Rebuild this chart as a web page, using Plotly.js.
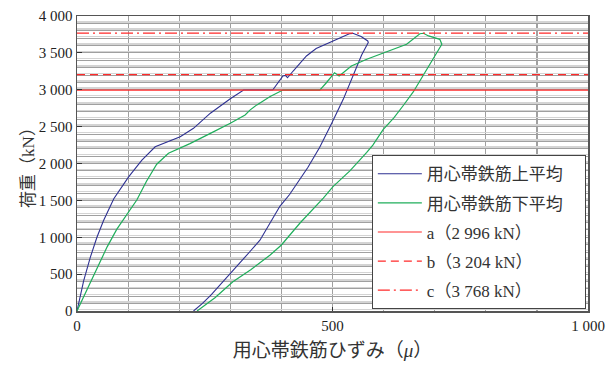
<!DOCTYPE html>
<html><head><meta charset="utf-8">
<script src="https://cdn.plot.ly/plotly-3.0.1.min.js"></script>
<style>body{margin:0;background:#fff}#c{width:611px;height:367px}</style>
</head><body><div id="c"></div>
<script>
// Upper average (用心帯鉄筋上平均): strain (μ), load (kN)
const upperStrain = [0, 13, 26, 39, 52, 72, 101, 127, 153, 182, 202, 228, 261, 300, 326, 383, 403, 408, 412, 423, 449, 468, 501, 533, 540, 556, 569,
  570, 557, 541, 521, 498, 475, 452, 436, 416, 397, 378, 358, 339, 320, 300, 280, 262, 245, 228];
const upperLoad   = [0, 409, 727, 1000, 1227, 1523, 1818, 2045, 2227, 2309, 2364, 2477, 2682, 2877, 2996, 2996, 3186, 3195, 3163, 3254, 3458, 3558, 3662, 3760, 3765, 3721, 3662,
  3640, 3470, 3200, 2870, 2540, 2220, 1950, 1780, 1580, 1420, 1190, 960, 810, 660, 505, 350, 215, 100, 0];
// Lower average (用心帯鉄筋下平均)
const lowerStrain = [0, 20, 39, 59, 78, 100, 117, 136, 156, 179, 200, 221, 261, 300, 329, 339, 352, 378, 403, 475, 488, 500, 504, 513, 521, 537, 567, 606, 645, 671, 678, 688, 701, 710, 714,
  704, 684, 658, 640, 620, 599, 579, 567, 534, 501, 482, 436, 400, 378, 340, 305, 270, 235];
const lowerLoad   = [0, 300, 590, 870, 1110, 1340, 1505, 1760, 1990, 2138, 2200, 2270, 2409, 2545, 2659, 2727, 2795, 2909, 2996, 2996, 3095, 3209, 3231, 3186, 3231, 3322, 3413, 3512, 3616, 3760, 3766, 3730, 3707, 3684, 3617,
  3503, 3277, 2970, 2800, 2620, 2460, 2250, 2150, 1900, 1686, 1530, 1190, 895, 759, 560, 397, 180, 0];
const seriesNames = ['用心帯鉄筋上平均', '用心帯鉄筋下平均'];
// Reference load levels
const levelNames = ['a（2 996 kN）', 'b（3 204 kN）', 'c（3 768 kN）'];
const levelValues = [2996, 3204, 3768];
const xRange = [0, 1000];
const xTickVals = [0, 500, 1000];
const xTickText = ['0', '500', '1 000'];
const yTickVals = [0, 500, 1000, 1500, 2000, 2500, 3000, 3500, 4000];
const yTickText = ['0', '500', '1 000', '1 500', '2 000', '2 500', '3 000', '3 500', '4 000'];

const serif = 'Liberation Serif, Noto Sans CJK JP, serif';
const dashes = ['solid', '8px,5px', '12px,4px,2px,4px'];
const pad = '\u00a0\u00a0\u00a0\u00a0';

const traces = [
  {x: upperStrain, y: upperLoad, mode: 'lines', name: seriesNames[0] + pad, legendgroup: 'g1',
   line: {color: '#2e3192', width: 1.1}},
  {x: lowerStrain, y: lowerLoad, mode: 'lines', name: seriesNames[1] + pad, legendgroup: 'g2',
   line: {color: '#1fae5b', width: 1.2}}
];
levelValues.forEach((v, i) => {
  traces.push({x: xRange, y: [v, v], mode: 'lines', name: levelNames[i], legendgroup: 'l' + i,
    line: {color: '#ff2a2a', width: 1.2, dash: dashes[i]}});
});
// invisible trace hosting the light companion gridlines
traces.push({x: [0], y: [0], yaxis: 'y2', mode: 'markers', marker: {opacity: 0}, showlegend: false, hoverinfo: 'skip'});

const layout = {
  width: 611, height: 367,
  margin: {l: 77, r: 23, t: 16, b: 56},
  paper_bgcolor: '#fff', plot_bgcolor: '#fff',
  font: {family: serif, size: 15, color: '#222'},
  showlegend: true,
  xaxis: {
    range: xRange, tickvals: xTickVals, ticktext: xTickText,
    showgrid: true, gridcolor: '#a0a0a0', gridwidth: 1.2,
    minor: {dtick: 100, tick0: 0, showgrid: true, gridcolor: '#a0a0a0', gridwidth: 1.2},
    showline: true, linecolor: '#555', linewidth: 1.5, mirror: true,
    ticks: 'inside', ticklen: 4, tickcolor: '#333',
    zeroline: false, tickfont: {family: serif, size: 15, color: '#222'},
    title: {text: '用心帯鉄筋ひずみ（<i>μ</i>）', font: {family: serif, size: 19, color: '#333'}, standoff: 11}
  },
  yaxis: {
    range: [0, 4000], tickvals: yTickVals, ticktext: yTickText,
    showgrid: true, gridcolor: '#a0a0a0', gridwidth: 1,
    minor: {dtick: 100, tick0: 0, showgrid: true, gridcolor: '#a0a0a0', gridwidth: 1},
    showline: true, linecolor: '#555', linewidth: 1.5, mirror: true,
    ticks: 'inside', ticklen: 5, tickcolor: '#333',
    zeroline: false, tickfont: {family: serif, size: 15, color: '#222'},
    title: {text: '荷重（kN）', font: {family: serif, size: 17, color: '#333'}, standoff: 0}
  },
  yaxis2: {
    overlaying: 'y', range: [0, 4000], tick0: 22, dtick: 100,
    showgrid: true, gridcolor: '#d4d4d4', gridwidth: 1.5,
    showticklabels: false, ticks: '', zeroline: false, showline: false
  },
  legend: {
    x: 0.577, y: 0.528, xanchor: 'left', yanchor: 'top',
    bordercolor: '#444', borderwidth: 1, bgcolor: '#fff',
    traceorder: 'grouped', tracegroupgap: 4, itemwidth: 44,
    font: {family: serif, size: 17, color: '#333'}
  }
};
Plotly.newPlot('c', traces, layout, {staticPlot: true, displayModeBar: false});
</script></body></html>
